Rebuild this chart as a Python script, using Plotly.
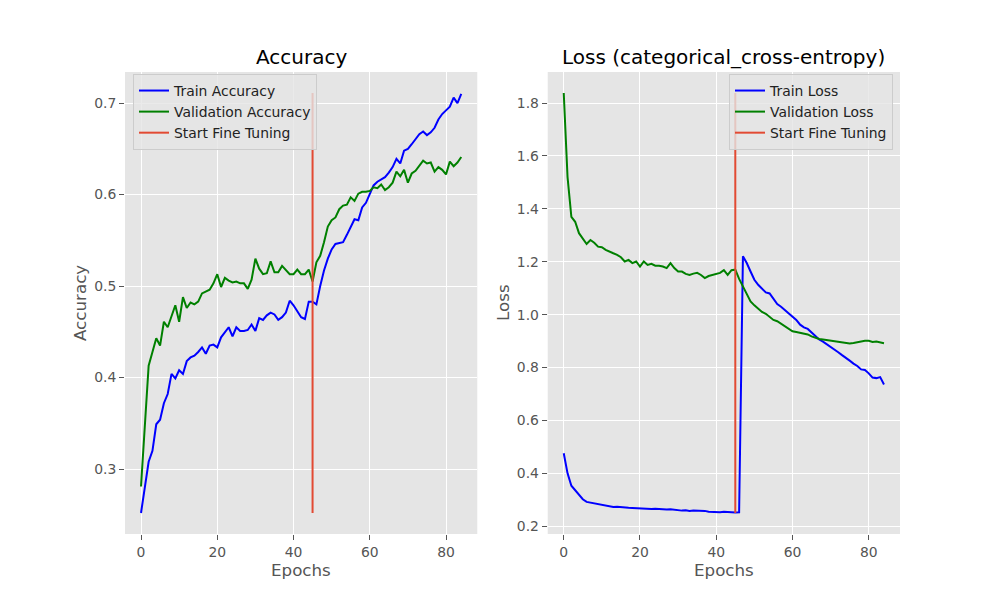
import numpy as np
import plotly.graph_objects as go

epochs = list(range(85))

train_acc = [0.252, 0.279, 0.308, 0.320, 0.349, 0.354, 0.372, 0.382, 0.404, 0.399,
             0.408, 0.404, 0.418, 0.422, 0.424, 0.428, 0.433, 0.426, 0.435, 0.436,
             0.433, 0.444, 0.449, 0.455, 0.445, 0.455, 0.451, 0.451, 0.452, 0.458,
             0.451, 0.465, 0.463, 0.468, 0.471, 0.469, 0.463, 0.466, 0.471, 0.484,
             0.479, 0.472, 0.466, 0.464, 0.483, 0.483, 0.480, 0.500, 0.517, 0.530,
             0.540, 0.546, 0.547, 0.548, 0.556, 0.565, 0.573, 0.572, 0.586, 0.591,
             0.600, 0.610, 0.614, 0.617, 0.619, 0.624, 0.630, 0.639, 0.634, 0.648,
             0.650, 0.655, 0.660, 0.666, 0.669, 0.665, 0.668, 0.673, 0.682, 0.688,
             0.692, 0.696, 0.706, 0.700, 0.710]

val_acc = [0.281, 0.345, 0.413, 0.428, 0.443, 0.435, 0.461, 0.455, 0.466, 0.479,
           0.461, 0.488, 0.476, 0.482, 0.480, 0.483, 0.492, 0.494, 0.496, 0.503,
           0.513, 0.499, 0.509, 0.506, 0.504, 0.505, 0.503, 0.503, 0.497, 0.507,
           0.530, 0.519, 0.513, 0.514, 0.527, 0.515, 0.515, 0.522, 0.517, 0.513,
           0.513, 0.518, 0.513, 0.513, 0.518, 0.505, 0.526, 0.533, 0.548, 0.565,
           0.572, 0.575, 0.584, 0.588, 0.589, 0.597, 0.593, 0.601, 0.603, 0.603,
           0.604, 0.608, 0.607, 0.611, 0.605, 0.608, 0.613, 0.625, 0.620, 0.627,
           0.613, 0.623, 0.626, 0.632, 0.637, 0.634, 0.635, 0.625, 0.630, 0.627,
           0.622, 0.636, 0.631, 0.635, 0.641]

train_loss = [0.476, 0.400, 0.353, 0.335, 0.318, 0.302, 0.292, 0.289, 0.287, 0.283,
              0.280, 0.277, 0.275, 0.273, 0.274, 0.272, 0.270, 0.270, 0.269, 0.268,
              0.269, 0.266, 0.266, 0.265, 0.266, 0.265, 0.263, 0.263, 0.264, 0.262,
              0.259, 0.259, 0.260, 0.258, 0.259, 0.259, 0.257, 0.258, 0.255, 0.254,
              0.254, 0.253, 0.255, 0.253, 0.253, 0.252, 0.253, 1.221, 1.195, 1.163,
              1.132, 1.113, 1.100, 1.084, 1.080, 1.058, 1.040, 1.030, 1.017, 1.004,
              0.991, 0.980, 0.962, 0.952, 0.946, 0.933, 0.920, 0.906, 0.898, 0.888,
              0.881, 0.870, 0.858, 0.847, 0.838, 0.826, 0.815, 0.806, 0.793, 0.791,
              0.778, 0.762, 0.760, 0.764, 0.736]

val_loss = [1.838, 1.520, 1.370, 1.351, 1.308, 1.289, 1.267, 1.282, 1.272, 1.257,
            1.255, 1.245, 1.237, 1.232, 1.226, 1.217, 1.201, 1.207, 1.195, 1.201,
            1.182, 1.201, 1.188, 1.192, 1.185, 1.185, 1.182, 1.176, 1.195, 1.176,
            1.163, 1.163, 1.154, 1.150, 1.155, 1.158, 1.150, 1.138, 1.146, 1.150,
            1.152, 1.158, 1.168, 1.150, 1.168, 1.170, 1.135, 1.105, 1.075, 1.050,
            1.035, 1.022, 1.010, 1.003, 0.990, 0.980, 0.975, 0.965, 0.956, 0.946,
            0.937, 0.934, 0.931, 0.927, 0.925, 0.918, 0.912, 0.908, 0.906, 0.904,
            0.903, 0.900, 0.898, 0.896, 0.893, 0.891, 0.893, 0.896, 0.899, 0.901,
            0.901, 0.897, 0.898, 0.896, 0.892]

fine_tune_epoch = [45, 45]
fine_tune_acc = [0.252, 0.711]
fine_tune_loss = [0.25, 1.838]

BLUE = "#0000FF"
GREEN = "#008000"
RED = "#E24A33"
FONT = "DejaVu Sans"

fig = go.Figure()

def add(x, y, name, color, xa, ya, legend):
    fig.add_trace(go.Scatter(x=x, y=y, mode="lines", name=name,
                             line=dict(color=color, width=2),
                             xaxis=xa, yaxis=ya, legend=legend))

add(epochs, train_acc, "Train Accuracy", BLUE, "x", "y", "legend")
add(epochs, val_acc, "Validation Accuracy", GREEN, "x", "y", "legend")
add(fine_tune_epoch, fine_tune_acc, "Start Fine Tuning", RED, "x", "y", "legend")
add(epochs, train_loss, "Train Loss", BLUE, "x2", "y2", "legend2")
add(epochs, val_loss, "Validation Loss", GREEN, "x2", "y2", "legend2")
add(fine_tune_epoch, fine_tune_loss, "Start Fine Tuning", RED, "x2", "y2", "legend2")


def mrange(arrs):
    lo = min(min(a) for a in arrs)
    hi = max(max(a) for a in arrs)
    pad = (hi - lo) * 0.05
    return [lo - pad, hi + pad]

xr = mrange([epochs])
yr1 = mrange([train_acc, val_acc, fine_tune_acc])
yr2 = mrange([train_loss, val_loss, fine_tune_loss])

L = 0.125
R = 0.9
W = (R - L) / 2.2
dom1 = [L, L + W]
dom2 = [R - W, R]
ydom = [0.11, 0.88]

axis_common = dict(showgrid=True, gridcolor="white", gridwidth=1, zeroline=False,
                   showline=False, ticks="outside", ticklen=5, tickwidth=1,
                   tickcolor="#555555",
                   tickfont=dict(family=FONT, size=13.9, color="#555555"))

fig.update_layout(
    width=1000, height=600,
    margin=dict(l=0, r=0, t=0, b=0),
    paper_bgcolor="white",
    plot_bgcolor="#E5E5E5",
    font=dict(family=FONT),
    xaxis=dict(domain=dom1, range=xr, anchor="y", tickvals=[0, 20, 40, 60, 80], **axis_common),
    yaxis=dict(domain=ydom, range=yr1, anchor="x", tickvals=[0.3, 0.4, 0.5, 0.6, 0.7],
               tickformat=".1f", **axis_common),
    xaxis2=dict(domain=dom2, range=xr, anchor="y2", tickvals=[0, 20, 40, 60, 80], **axis_common),
    yaxis2=dict(domain=ydom, range=yr2, anchor="x2",
                tickvals=[0.2, 0.4, 0.6, 0.8, 1.0, 1.2, 1.4, 1.6, 1.8],
                tickformat=".1f", **axis_common),
    legend=dict(x=0.133, y=1 - 74 / 600, xanchor="left", yanchor="top",
                bgcolor="rgba(229,229,229,0.8)", bordercolor="#CCCCCC", borderwidth=1,
                font=dict(family=FONT, size=13.9, color="#222222")),
    legend2=dict(x=0.893, y=1 - 74 / 600, xanchor="right", yanchor="top",
                 bgcolor="rgba(229,229,229,0.8)", bordercolor="#CCCCCC", borderwidth=1,
                 font=dict(family=FONT, size=13.9, color="#222222")),
    showlegend=True,
)

c1 = (dom1[0] + dom1[1]) / 2
c2 = (dom2[0] + dom2[1]) / 2
ymid = (ydom[0] + ydom[1]) / 2
ann = [
    dict(text="Accuracy", x=c1, y=1 - 57 / 600, font=dict(size=20, color="black")),
    dict(text="Loss (categorical_cross-entropy)", x=c2, y=1 - 57 / 600,
         font=dict(size=20, color="black")),
    dict(text="Epochs", x=c1, y=1 - 570 / 600, font=dict(size=16.7, color="#555555")),
    dict(text="Epochs", x=c2, y=1 - 570 / 600, font=dict(size=16.7, color="#555555")),
    dict(text="Accuracy", x=80 / 1000, y=ymid, textangle=-90,
         font=dict(size=16.7, color="#555555")),
    dict(text="Loss", x=503 / 1000, y=ymid, textangle=-90,
         font=dict(size=16.7, color="#555555")),
]
for a in ann:
    a.update(xref="paper", yref="paper", showarrow=False, xanchor="center", yanchor="middle")
    a["font"]["family"] = FONT
fig.update_layout(annotations=ann)

fig.write_html("out.html",
               config={"displayModeBar": False},
               post_script="document.body.style.margin='0';document.body.style.padding='0';")
